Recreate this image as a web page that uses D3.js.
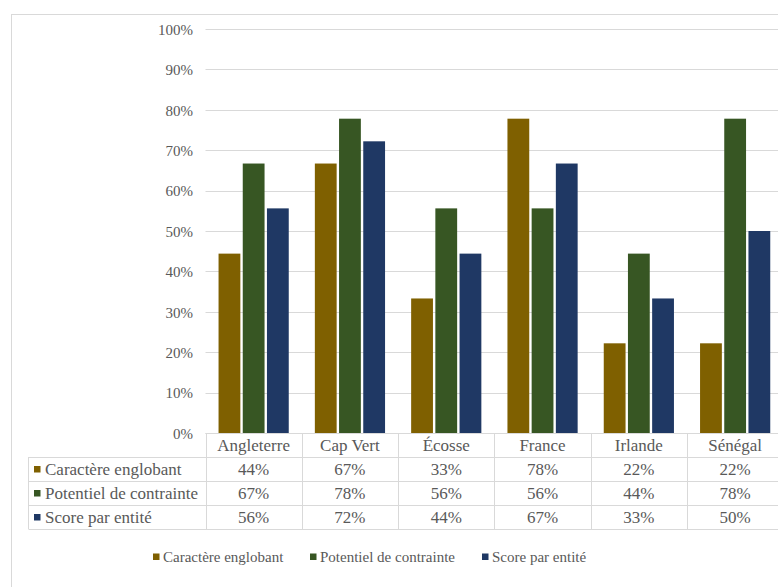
<!DOCTYPE html>
<html><head><meta charset="utf-8">
<script src="https://cdn.jsdelivr.net/npm/d3@7"></script>
<style>body{margin:0;background:#fff;overflow:hidden}svg{display:block}</style>
</head><body>
<svg id="c" width="778" height="587"></svg>
<script>
const categories = ["Angleterre","Cap Vert","Écosse","France","Irlande","Sénégal"];
const seriesNames = ["Caractère englobant","Potentiel de contrainte","Score par entité"];
const caractere = [44.4, 66.7, 33.3, 77.8, 22.2, 22.2];
const potentiel = [66.7, 77.8, 55.6, 55.6, 44.4, 77.8];
const score = [55.6, 72.2, 44.4, 66.7, 33.3, 50.0];
const tickValues = [0,10,20,30,40,50,60,70,80,90,100];
const colors = ["#7F6000","#375623","#1F3864"];

const series = [caractere, potentiel, score];
const svg = d3.select("#c");
const FF = '"Liberation Serif"';
const txt = "#595959", gridC = "#d9d9d9";

svg.append("rect").attr("x",11.5).attr("y",14.5).attr("width",800).attr("height",600)
  .attr("fill","none").attr("stroke",gridC).attr("stroke-width",1);

const x0 = 205.5, x1 = 783.3, yTop = 29, yBot = 433;
const x = d3.scaleBand().domain(categories).range([x0,x1]).paddingInner(0).paddingOuter(0);
const y = d3.scaleLinear().domain([0,100]).range([yBot,yTop]);

svg.append("g").selectAll("line").data(tickValues).join("line")
  .attr("x1",x0).attr("x2",x1).attr("y1",d=>Math.round(y(d))+0.5).attr("y2",d=>Math.round(y(d))+0.5)
  .attr("stroke",gridC).attr("stroke-width",1);

const yAxis = d3.axisLeft(y).tickValues(tickValues).tickFormat(d=>d+"%").tickSize(0).tickPadding(0);
const ga = svg.append("g").attr("transform","translate(193,0)").call(yAxis);
ga.select(".domain").remove();
ga.selectAll("text").style("font-family",FF).style("font-size","15px").attr("fill",txt).attr("dy","0.35em");

const barW = 21.8, step = 24.2;
const inner = d3.scaleBand().domain(d3.range(3)).range([0,step*3]).paddingInner(0);
categories.forEach((c,i)=>{
  const cx = x(c)+x.bandwidth()/2;
  series.forEach((s,j)=>{
    const bx = cx - step*1.5 + inner(j) + (step-barW)/2;
    svg.append("rect").attr("x",bx).attr("width",barW)
      .attr("y",y(s[i])).attr("height",yBot-y(s[i]))
      .attr("fill",colors[j]);
  });
});

const tblLeft = 28.5, rowH = 24, hdrTop = 433;
const tg = svg.append("g");
const rowsY = [hdrTop, hdrTop+rowH, hdrTop+2*rowH, hdrTop+3*rowH, hdrTop+4*rowH];
rowsY.forEach((ry,k)=>{
  tg.append("line").attr("x1",k===0?x0:tblLeft).attr("x2",x1).attr("y1",Math.round(ry)+0.5).attr("y2",Math.round(ry)+0.5)
    .attr("stroke",gridC);
});
const bounds = categories.map(c=>x(c)).concat([x1]);
bounds.forEach(bx=>{
  tg.append("line").attr("x1",Math.round(bx)+0.5).attr("x2",Math.round(bx)+0.5)
    .attr("y1",hdrTop).attr("y2",hdrTop+4*rowH).attr("stroke",gridC);
});
tg.append("line").attr("x1",tblLeft).attr("x2",tblLeft).attr("y1",hdrTop+rowH).attr("y2",hdrTop+4*rowH).attr("stroke",gridC);

const fsT = "17px";
categories.forEach(c=>{
  tg.append("text").attr("x",x(c)+x.bandwidth()/2).attr("y",hdrTop+rowH/2).attr("dy","0.35em")
    .attr("text-anchor","middle").style("font-family",FF).style("font-size",fsT).attr("fill",txt).text(c);
});
series.forEach((s,j)=>{
  const ry = hdrTop + rowH*(j+1) + rowH/2;
  tg.append("rect").attr("x",34).attr("y",ry-3).attr("width",6.5).attr("height",6.5).attr("fill",colors[j]);
  tg.append("text").attr("x",45).attr("y",ry).attr("dy","0.35em").style("font-family",FF).style("font-size",fsT)
    .attr("fill",txt).text(seriesNames[j]);
  categories.forEach((c,i)=>{
    tg.append("text").attr("x",x(c)+x.bandwidth()/2).attr("y",ry).attr("dy","0.35em")
      .attr("text-anchor","middle").style("font-family",FF).style("font-size",fsT).attr("fill",txt)
      .text(Math.round(s[i])+"%");
  });
});

const legX = [153, 310, 482], legY = 557;
seriesNames.forEach((n,j)=>{
  svg.append("rect").attr("x",legX[j]).attr("y",legY-3.5).attr("width",6.5).attr("height",6.5).attr("fill",colors[j]);
  svg.append("text").attr("x",legX[j]+10).attr("y",legY).attr("dy","0.35em").style("font-family",FF)
    .style("font-size","15px").attr("fill",txt).text(n);
});
</script>
</body></html>
